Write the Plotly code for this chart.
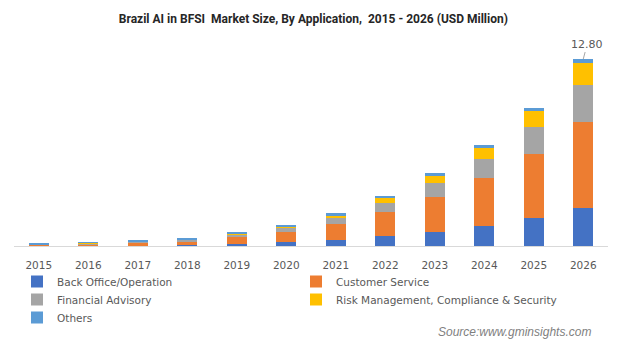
import plotly.graph_objects as go

years = ["2015", "2016", "2017", "2018", "2019", "2020", "2021", "2022", "2023", "2024", "2025", "2026"]
back_office = [0.01, 0.01, 0.03, 0.06, 0.14, 0.27, 0.41, 0.68, 0.96, 1.37, 1.92, 2.60]
customer_service = [0.06, 0.12, 0.20, 0.28, 0.48, 0.68, 1.10, 1.64, 2.40, 3.29, 4.38, 5.90]
financial_advisory = [0.01, 0.02, 0.07, 0.10, 0.14, 0.27, 0.41, 0.62, 0.96, 1.30, 1.85, 2.53]
risk_management = [0.01, 0.06, 0.02, 0.03, 0.07, 0.14, 0.20, 0.34, 0.48, 0.75, 1.10, 1.50]
others = [0.06, 0.06, 0.07, 0.08, 0.07, 0.07, 0.12, 0.14, 0.20, 0.20, 0.20, 0.27]

series = [
    ("Back Office/Operation", back_office, "#4472C4", "legend"),
    ("Customer Service", customer_service, "#ED7D31", "legend2"),
    ("Financial Advisory", financial_advisory, "#A5A5A5", "legend3"),
    ("Risk Management, Compliance & Security", risk_management, "#FFC000", "legend4"),
    ("Others", others, "#5B9BD5", "legend5"),
]

fig = go.Figure()
for name, vals, color, leg in series:
    fig.add_trace(go.Bar(x=years, y=vals, name=name, legend=leg,
                         marker=dict(color=color, line=dict(width=0))))

total_last = sum(s[1][-1] for s in series)

L, R, T, B = 14, 15, 50, 98
W, H = 623, 344
plot_w = W - L - R
plot_h = H - T - B

def px_x(p):
    return (p - L) / plot_w

def px_y(p):
    return (H - B - p) / plot_h

fig.add_annotation(
    x=len(years) - 1, y=total_last, xref="x", yref="y",
    text=f"{total_last:.2f}", showarrow=True, arrowhead=0, arrowwidth=1,
    arrowcolor="#a6a6a6", ax=4, ay=-15,
    font=dict(family="DejaVu Sans", size=11, color="#595959"),
)
fig.add_annotation(
    x=px_x(593), y=px_y(332), xref="paper", yref="paper", text="<i>Source:www.gminsights.com</i>",
    showarrow=False, xanchor="right", yanchor="middle",
    font=dict(family="Liberation Sans, Arial", size=12, color="#7f7f7f"),
)

legend_font = dict(family="DejaVu Sans", size=10.5, color="#595959")

def leg(xp, yp):
    return dict(orientation="v", x=px_x(xp), xanchor="left", y=px_y(yp), yanchor="top",
                traceorder="normal", tracegroupgap=0, font=legend_font,
                bgcolor="rgba(0,0,0,0)")

fig.update_layout(
    width=W, height=H,
    barmode="stack", bargap=0.6,
    plot_bgcolor="white", paper_bgcolor="white",
    margin=dict(l=L, r=R, t=T, b=B),
    title=dict(
        text="Brazil AI in BFSI  Market Size, By Application,  2015 - 2026 (USD Million)",
        x=0.503, xanchor="center", y=1 - 19 / H, yanchor="middle",
        font=dict(family="Roboto, Liberation Sans, Arial", size=12, color="#262626", weight="bold"),
    ),
    xaxis=dict(
        type="category", categoryorder="array", categoryarray=years,
        range=[-0.5, len(years) - 0.5], autorange=False,
        showline=True, linecolor="#d9d9d9", linewidth=1, ticks="", showgrid=False,
        ticklabelstandoff=9,
        tickfont=dict(family="DejaVu Sans", size=10.5, color="#595959"),
    ),
    yaxis=dict(visible=False, range=[0, 13.42], autorange=False, showgrid=False, zeroline=False),
    legend=leg(17, 267),
    legend2=leg(296, 267),
    legend3=leg(17, 285),
    legend4=leg(296, 285),
    legend5=leg(17, 303),
    showlegend=True,
)

fig.write_html("out.html")
